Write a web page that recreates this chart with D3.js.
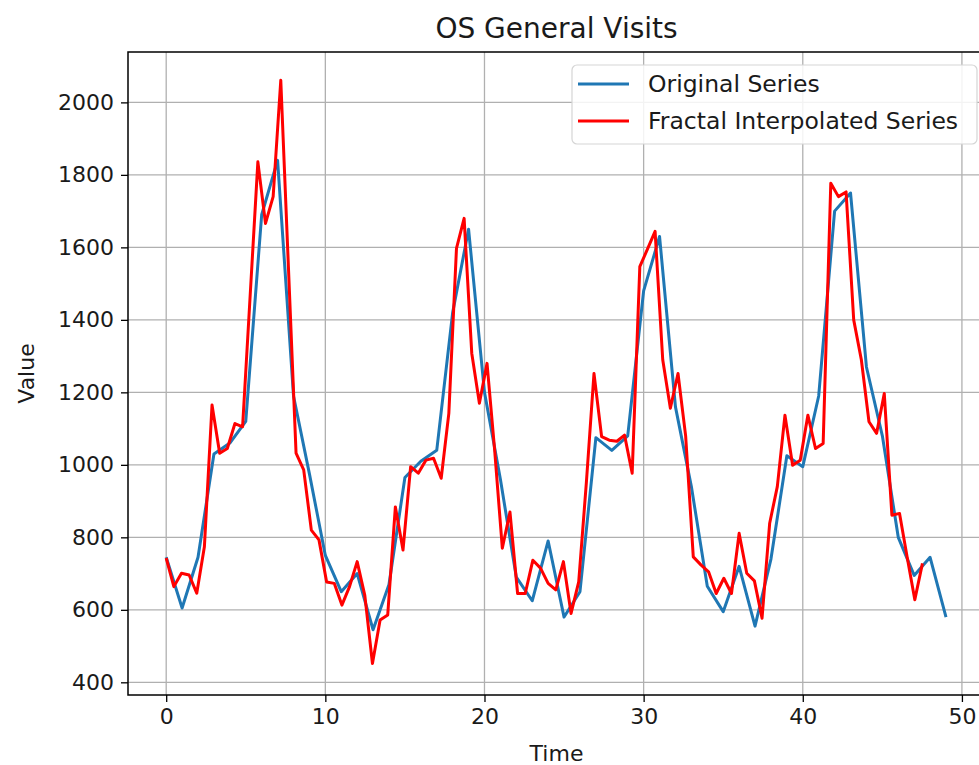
<!DOCTYPE html>
<html>
<head>
<meta charset="utf-8">
<script src="https://cdn.jsdelivr.net/npm/d3@7"></script>
<style>
  html, body { margin: 0; padding: 0; background: #fff; }
  svg { display: block; font-family: "DejaVu Sans", sans-serif; }
</style>
</head>
<body>
<svg id="chart" width="979" height="765"></svg>
<script>
// --- data ---
const originalSeries = [
  745, 605, 745, 1030, 1060, 1120, 1690, 1840, 1190, 975,
  750, 650, 700, 545, 670, 965, 1010, 1040, 1420, 1650,
  1200, 960, 690, 625, 790, 580, 650, 1075, 1040, 1080,
  1480, 1630, 1160, 940, 665, 595, 720, 555, 740, 1025,
  995, 1190, 1700, 1750, 1270, 1080, 800, 695, 745, 580
];

// fractal series is sampled every 0.48 time units
const fractalStep = 0.48;
const fractalSeries = [
  743, 664, 701, 696, 646, 774, 1165, 1032, 1045, 1114,
  1105, 1470, 1836, 1666, 1740, 2061, 1546, 1032, 986, 820,
  793, 677, 673, 613, 664, 733, 640, 452, 572, 586,
  884, 765, 995, 977, 1013, 1018, 963, 1142, 1597, 1680,
  1308, 1170, 1280, 1040, 770, 870, 645, 645, 737, 715,
  673, 655, 733, 590, 677, 950, 1252, 1078, 1068, 1065,
  1082, 977, 1547, 1595, 1644, 1290, 1156, 1252, 1080, 746,
  724, 705, 645, 687, 645, 811, 701, 680, 577, 839,
  940, 1137, 999, 1013, 1137, 1045, 1059, 1777, 1740, 1753,
  1400, 1290, 1119, 1087, 1197, 861, 866, 745, 628, 728
];

const xTicks = [0, 10, 20, 30, 40, 50];
const yTicks = [400, 600, 800, 1000, 1200, 1400, 1600, 1800, 2000];
const seriesNames = ["Original Series", "Fractal Interpolated Series"];
const seriesColors = ["#1f77b4", "#ff0000"];

// --- layout ---
const plot = { left: 128, top: 52, right: 985, bottom: 695 };

const svg = d3.select("#chart");

const x = d3.scaleLinear().domain([-2.4, 51.45]).range([plot.left, plot.right]);
const y = d3.scaleLinear().domain([365, 2139]).range([plot.bottom, plot.top]);

// grid
const grid = svg.append("g");
grid.selectAll("line.vx")
  .data(xTicks)
  .enter().append("line")
  .attr("x1", d => x(d)).attr("x2", d => x(d))
  .attr("y1", plot.top).attr("y2", plot.bottom)
  .attr("stroke", "#b0b0b0").attr("stroke-width", 1.3);
grid.selectAll("line.hy")
  .data(yTicks)
  .enter().append("line")
  .attr("x1", plot.left).attr("x2", plot.right)
  .attr("y1", d => y(d)).attr("y2", d => y(d))
  .attr("stroke", "#b0b0b0").attr("stroke-width", 1.3);

// series
const lineOrig = d3.line()
  .x((d, i) => x(i))
  .y(d => y(d));
const lineFrac = d3.line()
  .x((d, i) => x(i * fractalStep))
  .y(d => y(d));

svg.append("path")
  .datum(originalSeries)
  .attr("d", lineOrig)
  .attr("fill", "none")
  .attr("stroke", seriesColors[0])
  .attr("stroke-width", 3)
  .attr("stroke-linejoin", "round");

svg.append("path")
  .datum(fractalSeries)
  .attr("d", lineFrac)
  .attr("fill", "none")
  .attr("stroke", seriesColors[1])
  .attr("stroke-width", 3)
  .attr("stroke-linejoin", "round");

// axes
const xAxis = d3.axisBottom(x).tickValues(xTicks).tickSize(7).tickPadding(6)
  .tickFormat(d3.format("d"));
const yAxis = d3.axisLeft(y).tickValues(yTicks).tickSize(7).tickPadding(7)
  .tickFormat(d3.format("d"));

const gx = svg.append("g")
  .attr("transform", `translate(0,${plot.bottom})`)
  .call(xAxis);
const gy = svg.append("g")
  .attr("transform", `translate(${plot.left},0)`)
  .call(yAxis);

[gx, gy].forEach(g => {
  g.select(".domain").remove();
  g.selectAll(".tick line").attr("stroke", "#000").attr("stroke-width", 1.3);
  g.selectAll(".tick text")
    .attr("fill", "#1a1a1a")
    .style("font-size", "22px")
    .style("font-family", "DejaVu Sans, sans-serif");
});

// spines
svg.append("rect")
  .attr("x", plot.left).attr("y", plot.top)
  .attr("width", plot.right - plot.left)
  .attr("height", plot.bottom - plot.top)
  .attr("fill", "none")
  .attr("stroke", "#000")
  .attr("stroke-width", 1.5);

// labels
svg.append("text")
  .attr("x", (plot.left + plot.right) / 2)
  .attr("y", 38)
  .attr("text-anchor", "middle")
  .attr("fill", "#1a1a1a")
  .style("font-size", "28px")
  .text("OS General Visits");

svg.append("text")
  .attr("x", (plot.left + plot.right) / 2)
  .attr("y", 761)
  .attr("text-anchor", "middle")
  .attr("fill", "#1a1a1a")
  .style("font-size", "22px")
  .text("Time");

svg.append("text")
  .attr("transform", `translate(34,${(plot.top + plot.bottom) / 2}) rotate(-90)`)
  .attr("text-anchor", "middle")
  .attr("fill", "#1a1a1a")
  .style("font-size", "22px")
  .text("Value");

// legend
const legend = svg.append("g").attr("transform", "translate(572,65)");
legend.append("rect")
  .attr("width", 405).attr("height", 79)
  .attr("rx", 5)
  .attr("fill", "#fff").attr("fill-opacity", 0.85)
  .attr("stroke", "#d5d5d5").attr("stroke-width", 1.2);

seriesNames.forEach((name, i) => {
  const row = legend.append("g").attr("transform", `translate(0,${19 + i * 37})`);
  row.append("line")
    .attr("x1", 6).attr("x2", 57)
    .attr("stroke", seriesColors[i]).attr("stroke-width", 3);
  row.append("text")
    .attr("x", 76).attr("y", 8)
    .attr("fill", "#1a1a1a")
    .style("font-size", "23.5px")
    .text(name);
});
</script>
</body>
</html>
